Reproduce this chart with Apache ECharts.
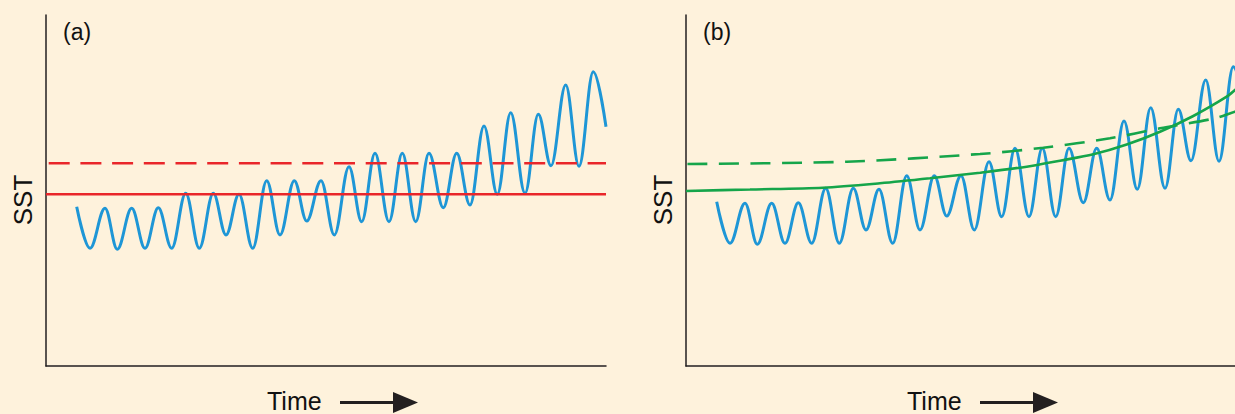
<!DOCTYPE html>
<html><head><meta charset="utf-8">
<script src="https://cdn.jsdelivr.net/npm/echarts@6/dist/echarts.min.js"></script>
<style>html,body{margin:0;padding:0;background:#FEF2DC;}#c{width:1235px;height:414px;}</style>
</head><body><div id="c"></div><script>
// ---- data (arbitrary units) ----
const panelLabels = ['(a)', '(b)'];
const yAxisName = 'SST';
const xAxisName = 'Time';
const blueTime = [3.07,4.40,5.90,7.13,8.57,9.90,11.23,12.57,13.97,15.33,16.73,18.00,19.30,20.67,22.07,23.40,24.83,26.07,27.50,28.83,30.30,31.57,32.90,34.30,35.63,36.97,38.30,39.73,41.07,42.40,43.80,45.13,46.47,47.90,49.23,50.50,51.97,53.30,54.73,56.00];
const blueSST = [15.93,11.77,15.77,11.67,15.77,11.77,15.83,11.77,17.27,11.77,17.27,13.10,17.17,11.77,18.53,13.10,18.53,14.50,18.53,13.10,19.93,14.43,21.27,14.43,21.27,14.43,21.27,15.83,21.27,16.10,24.00,17.17,25.33,17.27,25.17,20.03,28.10,19.97,29.43,23.93];
const redTime = [0, 56];
const redSolidLevel = 17.18;
const redDashedLevel = 20.27;
const greenSolidTime = [0, 6.4, 13.7, 19.4, 24.4, 29.4, 34.07, 37.4, 40.73, 44.07, 47.4, 50.73, 54.07, 54.9, 55.9];
const greenSolidSST = [17.0, 17.15, 17.33, 17.77, 18.27, 18.83, 19.43, 20.03, 20.67, 21.65, 22.93, 24.5, 26.43, 27.1, 28.0];
const greenDashedTime = [0, 16.07, 29.4, 35.73, 42.4, 47.4, 52.9, 54.9, 55.9];
const greenDashedSST = [19.7, 19.93, 20.7, 21.33, 22.27, 23.27, 24.27, 24.93, 25.2];

const zip = (a, b) => a.map((v, i) => [v, b[i]]);
const BLUE = '#1E96D6', RED = '#E9262A', GREEN = '#15A54A', INK = '#231F20';
const FONT = 'Liberation Sans, Arial, Helvetica, sans-serif';

const axisLine = {show: true, onZero: false, lineStyle: {color: INK, width: 1.5}};
const xAxisBase = {type: 'value', min: 0, max: 56, axisLine, axisTick: {show: false}, axisLabel: {show: false}, splitLine: {show: false}};
const yAxisBase = {type: 'value', axisLine, axisTick: {show: false}, axisLabel: {show: false}, splitLine: {show: false}};

const chart = echarts.init(document.getElementById('c'), null, {renderer: 'svg'});

function panelGraphics(dx, label) {
  return [
    {type: 'text', x: 63 + dx, y: 32, style: {text: label, font: '23px ' + FONT, fill: '#111', textAlign: 'left', textVerticalAlign: 'middle'}},
    {type: 'text', x: 23 + dx, y: 200, rotation: Math.PI / 2, style: {text: yAxisName, font: '26px ' + FONT, fill: '#111', textAlign: 'center', textVerticalAlign: 'middle'}},
    {type: 'text', x: 267 + dx, y: 401, style: {text: xAxisName, font: '25px ' + FONT, fill: '#111', textAlign: 'left', textVerticalAlign: 'middle'}},
    {type: 'line', shape: {x1: 340 + dx, y1: 402.5, x2: 396 + dx, y2: 402.5}, style: {stroke: '#231F20', lineWidth: 3}},
    {type: 'polygon', shape: {points: [[393 + dx, 392], [418 + dx, 402.5], [393 + dx, 413]]}, style: {fill: '#231F20'}}
  ];
}

chart.setOption({
  backgroundColor: '#FEF2DC',
  animation: false,
  grid: [
    {left: 46, top: 15, width: 560, height: 351, containLabel: false, outerBoundsMode: 'none'},
    {left: 686, top: 15, width: 560, height: 351, containLabel: false, outerBoundsMode: 'none'}
  ],
  xAxis: [Object.assign({gridIndex: 0}, xAxisBase), Object.assign({gridIndex: 1}, xAxisBase)],
  yAxis: [Object.assign({gridIndex: 0, min: 0, max: 35.1}, yAxisBase), Object.assign({gridIndex: 1, min: -0.5, max: 34.6}, yAxisBase)],
  series: [
    {type: 'line', xAxisIndex: 0, yAxisIndex: 0, data: zip(blueTime, blueSST), smooth: 0.37, smoothMonotone: 'x', symbol: 'none', lineStyle: {color: BLUE, width: 3}, z: 2},
    {type: 'line', xAxisIndex: 0, yAxisIndex: 0, data: zip(redTime, redTime.map(() => redSolidLevel)), symbol: 'none', lineStyle: {color: RED, width: 2.6}, z: 3},
    {type: 'line', xAxisIndex: 0, yAxisIndex: 0, data: zip(redTime, redTime.map(() => redDashedLevel)), symbol: 'none', lineStyle: {color: RED, width: 2.6, type: [21, 10.7], dashOffset: 29.4}, z: 3},
    {type: 'line', xAxisIndex: 1, yAxisIndex: 1, data: zip(blueTime, blueSST), smooth: 0.37, smoothMonotone: 'x', symbol: 'none', lineStyle: {color: BLUE, width: 3}, z: 2},
    {type: 'line', xAxisIndex: 1, yAxisIndex: 1, data: zip(greenSolidTime, greenSolidSST), smooth: 0.3, symbol: 'none', lineStyle: {color: GREEN, width: 2.6}, z: 3},
    {type: 'line', xAxisIndex: 1, yAxisIndex: 1, data: zip(greenDashedTime, greenDashedSST), smooth: 0.3, symbol: 'none', lineStyle: {color: GREEN, width: 2.6, type: [20, 11.5], dashOffset: 29.5}, z: 3}
  ],
  graphic: panelGraphics(0, panelLabels[0]).concat(panelGraphics(640, panelLabels[1]))
});
</script></body></html>
